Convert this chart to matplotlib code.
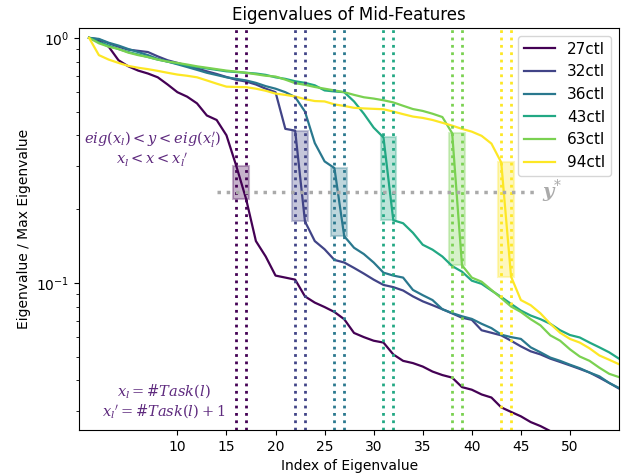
import matplotlib
matplotlib.use('Agg')
import matplotlib.pyplot as plt
from matplotlib.patches import Rectangle
import numpy as np

# normalised eigenvalues (index 1..56)
e27 = [1.0, 0.97, 0.92, 0.81, 0.765, 0.735, 0.715, 0.69, 0.645, 0.60,
       0.575, 0.54, 0.482, 0.462, 0.40, 0.30, 0.22, 0.148, 0.128, 0.107,
       0.105, 0.103, 0.088, 0.083, 0.0796, 0.076, 0.071, 0.0624, 0.060, 0.058,
       0.057, 0.051, 0.048, 0.047, 0.0455, 0.0434, 0.042, 0.041, 0.0375, 0.0366,
       0.035, 0.034, 0.031, 0.0297, 0.0285, 0.027, 0.026, 0.0248, 0.024, 0.023,
       0.022, 0.021, 0.020, 0.019, 0.018, 0.017]
e32 = [1.0, 0.985, 0.95, 0.92, 0.895, 0.885, 0.875, 0.84, 0.81, 0.79,
       0.77, 0.75, 0.73, 0.712, 0.692, 0.674, 0.663, 0.645, 0.62, 0.60,
       0.425, 0.418, 0.178, 0.148, 0.137, 0.124, 0.121, 0.115, 0.109, 0.103,
       0.098, 0.096, 0.093, 0.088, 0.084, 0.081, 0.078, 0.075, 0.072, 0.0706,
       0.064, 0.0625, 0.061, 0.058, 0.055, 0.0525, 0.051, 0.049, 0.0475, 0.046,
       0.0445, 0.043, 0.041, 0.039, 0.037, 0.036]
e36 = [1.0, 0.99, 0.955, 0.93, 0.90, 0.875, 0.85, 0.82, 0.80, 0.78,
       0.76, 0.74, 0.72, 0.705, 0.69, 0.68, 0.67, 0.655, 0.635, 0.62,
       0.60, 0.573, 0.50, 0.372, 0.313, 0.294, 0.155, 0.139, 0.131, 0.121,
       0.110, 0.107, 0.105, 0.0935, 0.089, 0.085, 0.078, 0.0752, 0.073, 0.0712,
       0.068, 0.0653, 0.0614, 0.060, 0.059, 0.0545, 0.052, 0.0495, 0.048, 0.0463,
       0.0448, 0.043, 0.0415, 0.039, 0.0372, 0.036]
e43 = [1.0, 0.96, 0.93, 0.90, 0.875, 0.855, 0.835, 0.815, 0.80, 0.785,
       0.772, 0.76, 0.75, 0.74, 0.73, 0.725, 0.72, 0.715, 0.706, 0.69,
       0.68, 0.665, 0.655, 0.64, 0.61, 0.604, 0.60, 0.55, 0.49, 0.43,
       0.392, 0.18, 0.175, 0.16, 0.143, 0.1365, 0.128, 0.117, 0.111, 0.102,
       0.099, 0.093, 0.0875, 0.082, 0.077, 0.0735, 0.071, 0.068, 0.064, 0.0612,
       0.0598, 0.057, 0.0545, 0.052, 0.049, 0.047]
e63 = [1.0, 0.95, 0.92, 0.90, 0.87, 0.85, 0.835, 0.815, 0.80, 0.79,
       0.778, 0.765, 0.755, 0.745, 0.735, 0.728, 0.72, 0.71, 0.70, 0.695,
       0.675, 0.653, 0.643, 0.63, 0.62, 0.61, 0.60, 0.585, 0.572, 0.565,
       0.556, 0.545, 0.528, 0.512, 0.503, 0.49, 0.475, 0.408, 0.118, 0.105,
       0.101, 0.0935, 0.0866, 0.080, 0.076, 0.071, 0.067, 0.061, 0.058, 0.0535,
       0.050, 0.048, 0.045, 0.0425, 0.0412, 0.040]
e94 = [1.0, 0.85, 0.815, 0.79, 0.768, 0.755, 0.745, 0.733, 0.72, 0.708,
       0.70, 0.69, 0.67, 0.65, 0.632, 0.63, 0.629, 0.62, 0.608, 0.592,
       0.585, 0.576, 0.562, 0.552, 0.55, 0.535, 0.527, 0.518, 0.515, 0.513,
       0.511, 0.50, 0.488, 0.477, 0.471, 0.462, 0.45, 0.438, 0.425, 0.414,
       0.398, 0.37, 0.31, 0.106, 0.085, 0.081, 0.075, 0.068, 0.0625, 0.059,
       0.057, 0.054, 0.0505, 0.0485, 0.0465, 0.045]

labels = ['27ctl', '32ctl', '36ctl', '43ctl', '63ctl', '94ctl']
tasks = [16, 22, 26, 31, 38, 43]   # x_l = #Task(l)
y_star = 0.235

series = [e27, e32, e36, e43, e63, e94]
colors = plt.cm.viridis(np.linspace(0, 1, len(series)))

plt.rcParams['mathtext.fontset'] = 'dejavuserif'
fig, ax = plt.subplots(figsize=(6.24, 4.76), dpi=100)
fig.subplots_adjust(left=0.127, right=0.992, bottom=0.097, top=0.941)

for vals, lab, c in zip(series, labels, colors):
    idx = np.arange(1, len(vals) + 1)
    ax.plot(idx, vals, color=c, lw=1.6, label=lab)

for vals, t, c in zip(series, tasks, colors):
    ax.axvline(t, color=c, ls=':', lw=2)
    ax.axvline(t + 1, color=c, ls=':', lw=2)
    hi = vals[t - 1]
    lo = vals[t]
    ax.add_patch(Rectangle((t - 0.3, lo), 1.6, hi - lo, facecolor=c,
                           edgecolor=c, alpha=0.3, lw=1.5))

ax.plot([14, 46.6], [y_star, y_star], color='#aaaaaa', ls=':', lw=2.5)
ax.text(47.2, y_star, r'$\mathbfit{y}^{*}$', color='#aaaaaa', fontsize=14,
        va='center', ha='left')

tc = '#5e2a7e'
ax.text(7.45, 0.351,
        "$eig(x_l) < y < eig(x_l^{\\prime})$\n$x_l < x < x_l{}^{\\prime}$",
        color=tc, fontsize=10.5, ha='center', va='center',
        multialignment='center', linespacing=1.15)
ax.text(8.6, 0.0329,
        "$x_l = $#$Task(l)$\n$x_l{}^{\\prime} = $#$Task(l) + 1$",
        color=tc, fontsize=10.5, ha='center', va='center',
        multialignment='center', linespacing=1.15)

ax.set_yscale('log')
ax.set_xlim(0, 55)
ax.set_ylim(0.0251, 1.096)
ax.set_xticks(range(10, 55, 5))
ax.set_title('Eigenvalues of Mid-Features')
ax.set_xlabel('Index of Eigenvalue')
ax.set_ylabel('Eigenvalue / Max Eigenvalue')
ax.legend(loc='upper right', fontsize=11)

plt.savefig('out.png')
